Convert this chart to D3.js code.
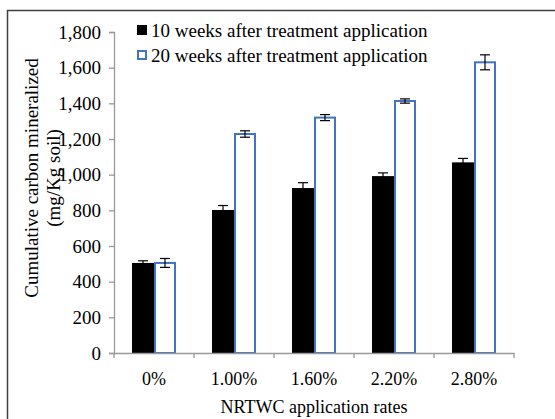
<!DOCTYPE html>
<html>
<head>
<meta charset="utf-8">
<script src="https://cdn.jsdelivr.net/npm/d3@7"></script>
<style>
  body { margin: 0; background: #fff; }
  svg text { font-family: "Liberation Serif", "Times New Roman", serif; fill: #000; }
</style>
</head>
<body>
<div id="chart"></div>
<script>
// categories and series
const rates = ["0%", "1.00%", "1.60%", "2.20%", "2.80%"];
const seriesNames = ["10 weeks after treatment application", "20 weeks after treatment application"];
const week10 = [505, 802, 925, 992, 1069];
const week20 = [505, 1228, 1320, 1413, 1630];
const week10Err = [12, 25, 30, 18, 22];
const week20Err = [25, 18, 17, 12, 42];
const yTicks = [0, 200, 400, 600, 800, 1000, 1200, 1400, 1600, 1800];

const width = 555, height = 419;
const margin = { top: 32, right: 41, bottom: 66, left: 114 };

const svg = d3.select("#chart").append("svg")
  .attr("width", width)
  .attr("height", height);

// outer chart frame
svg.append("rect")
  .attr("x", 7.5).attr("y", 10.5)
  .attr("width", 560).attr("height", 420)
  .attr("fill", "none")
  .attr("stroke", "#404040")
  .attr("stroke-width", 1.5);

const x0 = d3.scaleBand()
  .domain(rates)
  .range([margin.left, width - margin.right]);

const x1 = d3.scaleBand()
  .domain([0, 1])
  .range([0, x0.bandwidth()])
  .paddingOuter(0.818);

const y = d3.scaleLinear()
  .domain([0, 1800])
  .range([height - margin.bottom, margin.top]);

const rows = rates.map((r, i) => ({
  rate: r,
  vals: [
    { s: 0, v: week10[i], e: week10Err[i] },
    { s: 1, v: week20[i], e: week20Err[i] }
  ]
}));

// bars
const groups = svg.append("g").selectAll("g")
  .data(rows)
  .join("g")
  .attr("transform", d => `translate(${x0(d.rate)},0)`);

groups.selectAll("rect")
  .data(d => d.vals)
  .join("rect")
  .attr("x", d => x1(d.s) + (d.s === 1 ? 1 : 0))
  .attr("y", d => y(d.v))
  .attr("width", d => x1.bandwidth() - (d.s === 1 ? 2 : 0))
  .attr("height", d => y(0) - y(d.v))
  .attr("fill", d => d.s === 0 ? "#000" : "#fff")
  .attr("stroke", d => d.s === 0 ? "none" : "#4472c4")
  .attr("stroke-width", 2);

// error bars
const eb = groups.selectAll("g.err")
  .data(d => d.vals)
  .join("g")
  .attr("class", "err")
  .attr("stroke", "#000")
  .attr("stroke-width", 1.2);

eb.append("line")
  .attr("x1", d => x1(d.s) + x1.bandwidth() / 2)
  .attr("x2", d => x1(d.s) + x1.bandwidth() / 2)
  .attr("y1", d => y(d.v + d.e))
  .attr("y2", d => y(d.v - d.e));

[1, -1].forEach(sign => {
  eb.append("line")
    .attr("x1", d => x1(d.s) + x1.bandwidth() / 2 - 5)
    .attr("x2", d => x1(d.s) + x1.bandwidth() / 2 + 5)
    .attr("y1", d => y(d.v + sign * d.e))
    .attr("y2", d => y(d.v + sign * d.e));
});

// y axis
const yAxis = svg.append("g")
  .attr("transform", `translate(${margin.left},0)`)
  .call(d3.axisLeft(y).tickValues(yTicks).tickSize(5).tickPadding(8));
yAxis.select(".domain").attr("stroke", "#999").attr("stroke-width", 1.3);
yAxis.selectAll(".tick line").attr("stroke", "#999").attr("stroke-width", 1.3);
yAxis.selectAll(".tick text").style("font-size", "19px");

// x axis
const xAxis = svg.append("g")
  .attr("transform", `translate(0,${y(0)})`)
  .call(d3.axisBottom(x0).tickSize(0).tickPadding(19));
xAxis.select(".domain").attr("stroke", "#999").attr("stroke-width", 1.3);
xAxis.selectAll(".tick text").style("font-size", "18px");
// category separators
xAxis.selectAll(".sep")
  .data(rates.concat(["end"]))
  .join("line")
  .attr("class", "sep")
  .attr("x1", (d, i) => i < rates.length ? x0(d) : x0(rates[rates.length - 1]) + x0.bandwidth())
  .attr("x2", (d, i) => i < rates.length ? x0(d) : x0(rates[rates.length - 1]) + x0.bandwidth())
  .attr("y1", 0).attr("y2", 5)
  .attr("stroke", "#999").attr("stroke-width", 1.3);

// axis titles
svg.append("text")
  .attr("x", (margin.left + width - margin.right) / 2)
  .attr("y", 413)
  .attr("text-anchor", "middle")
  .style("font-size", "18px")
  .text("NRTWC application rates");

const yt = svg.append("text")
  .attr("transform", "translate(38,178) rotate(-90)")
  .attr("text-anchor", "middle")
  .style("font-size", "19px");
yt.append("tspan").attr("x", 0).attr("dy", 0).text("Cumulative carbon mineralized");
yt.append("tspan").attr("x", 0).attr("dy", 22).text("(mg/Kg soil)");

// legend
const legend = svg.append("g").attr("transform", "translate(137,25)");
seriesNames.forEach((name, i) => {
  const g = legend.append("g").attr("transform", `translate(0,${i * 25})`);
  g.append("rect")
    .attr("x", i === 0 ? 0 : 1).attr("y", i === 0 ? 0 : 1)
    .attr("width", i === 0 ? 10 : 8).attr("height", i === 0 ? 10 : 8)
    .attr("fill", i === 0 ? "#000" : "#fff")
    .attr("stroke", i === 0 ? "none" : "#4472c4")
    .attr("stroke-width", 2);
  g.append("text")
    .attr("x", 14).attr("y", 12)
    .style("font-size", "19px")
    .text(name);
});
</script>
</body>
</html>
